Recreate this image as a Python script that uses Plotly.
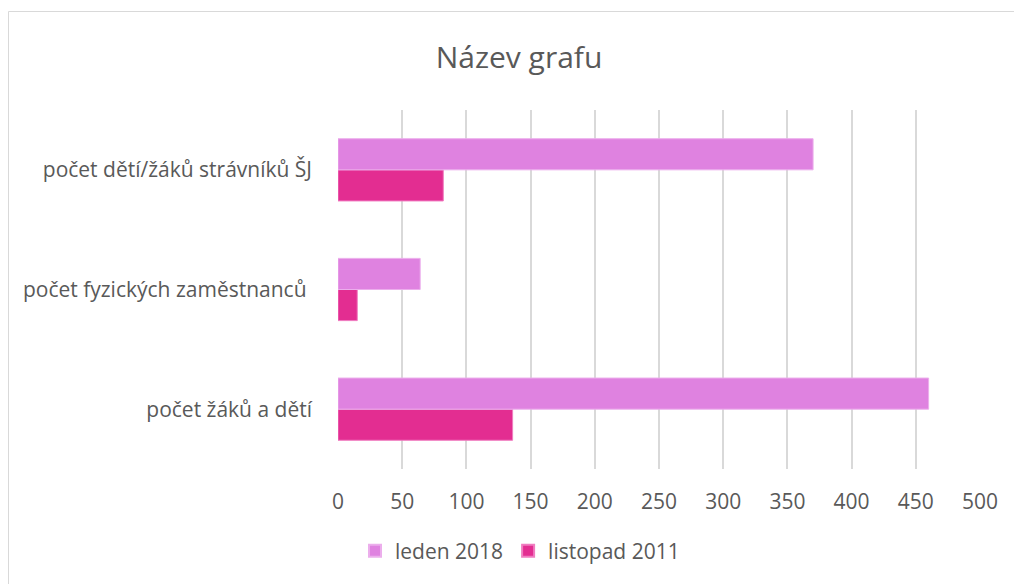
import plotly.graph_objects as go

categories = ["počet žáků a dětí", "počet fyzických zaměstnanců ", "počet dětí/žáků strávníků ŠJ"]
leden_2018 = [460, 64, 370]
listopad_2011 = [136, 15, 82]
x_ticks = [0, 50, 100, 150, 200, 250, 300, 350, 400, 450, 500]

W, H = 1014, 584
ML, MR, MT, MB = 338, 34, 110, 115
FONT = "Open Sans"
GRAY = "#595959"
FS = 21

fig = go.Figure()
fig.add_trace(go.Bar(
    y=categories, x=listopad_2011, name="listopad 2011", orientation="h",
    marker=dict(color="#E32D91", line=dict(color="#F07CC0", width=1)),
))
fig.add_trace(go.Bar(
    y=categories, x=leden_2018, name="leden 2018", orientation="h",
    marker=dict(color="#DF82E0", line=dict(color="#ECAEEC", width=1)),
))

pw = W - ML - MR
ph = H - MT - MB
fig.add_shape(type="rect", xref="paper", yref="paper",
              x0=(8.5 - ML) / pw, x1=(1030 - ML) / pw,
              y0=1 - (600 - MT) / ph, y1=1 - (11.5 - MT) / ph,
              line=dict(color="#D9D9D9", width=1), fillcolor="rgba(0,0,0,0)", layer="below")

fig.update_layout(
    width=W, height=H,
    margin=dict(l=ML, r=MR, t=MT, b=MB),
    paper_bgcolor="white", plot_bgcolor="white",
    barmode="group", bargap=0.48, bargroupgap=0,
    font=dict(family=FONT, size=FS, color=GRAY),
    title=dict(text="Název grafu", font=dict(family=FONT, size=30, color=GRAY),
               x=519 / W, xref="container", xanchor="center",
               y=1 - 57 / H, yref="container", yanchor="middle"),
    legend=dict(orientation="h", traceorder="reversed",
                x=520 / W, xref="container", xanchor="center",
                y=1 - 551 / H, yref="container", yanchor="middle",
                font=dict(family=FONT, size=FS, color=GRAY),
                itemwidth=30, itemsizing="constant"),
    xaxis=dict(range=[0, 500], tickvals=x_ticks, showgrid=True, gridcolor="#D9D9D9",
               gridwidth=1.5, zeroline=False, showline=False, ticks="",
               ticklabelstandoff=18, tickfont=dict(family=FONT, size=FS, color=GRAY)),
    yaxis=dict(categoryorder="array", categoryarray=categories, range=[-0.5, 2.5],
               showgrid=False, zeroline=False, showline=False, ticks="",
               ticklabelstandoff=25, tickfont=dict(family=FONT, size=FS, color=GRAY)),
)

fig.write_html("out.html", config={"displayModeBar": False},
               post_script="document.body.style.margin='0';document.body.style.overflow='hidden';")
